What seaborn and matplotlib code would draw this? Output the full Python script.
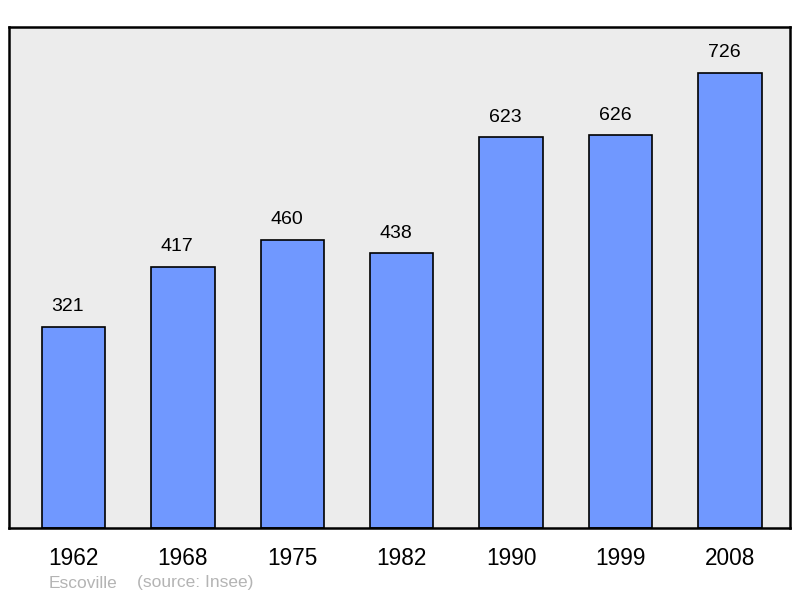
import matplotlib
matplotlib.use("Agg")
import matplotlib.pyplot as plt
import seaborn as sns
import pandas as pd

# Population data
years = ["1962", "1968", "1975", "1982", "1990", "1999", "2008"]
population = [321, 417, 460, 438, 623, 626, 726]
town = "Escoville"
source = "(source: Insee)"

df = pd.DataFrame({"year": years, "population": population})

sns.set_style("white")
plt.rcParams["font.family"] = ["Liberation Sans", "DejaVu Sans"]

fig = plt.figure(figsize=(8, 5.98), dpi=100)
ax = fig.add_axes([9 / 800, 70 / 598, 781 / 800, 501 / 598])
ax.set_facecolor("#ececec")

sns.barplot(data=df, x="year", y="population", color="#7098ff", saturation=1,
            edgecolor="black", linewidth=1.2, width=0.58, ax=ax)

# value labels above each bar, slightly left of centre like the original
for bar, val in zip(ax.patches, population):
    ax.annotate(str(val), (bar.get_x() + bar.get_width() / 2, bar.get_height()),
                xytext=(-4, 8.5), textcoords="offset points",
                ha="center", va="bottom", fontsize=14, color="black")

ax.set_ylim(0, 799)
ax.set_xlim(-0.59, 6.55)
ax.set_yticks([])
ax.set_xlabel("")
ax.set_ylabel("")
ax.tick_params(axis="x", length=0, pad=14, labelsize=16.3, labelcolor="black")
for side in ax.spines.values():
    side.set_linewidth(1.8)
    side.set_color("black")

fig.text(49 / 800, 1 - 583 / 598, town, color="#b4b4b4", fontsize=12.5, va="center")
fig.text(137 / 800, 1 - 583 / 598, source, color="#b4b4b4", fontsize=12.5, va="center")

fig.savefig("out.png", dpi=100)
plt.close(fig)
